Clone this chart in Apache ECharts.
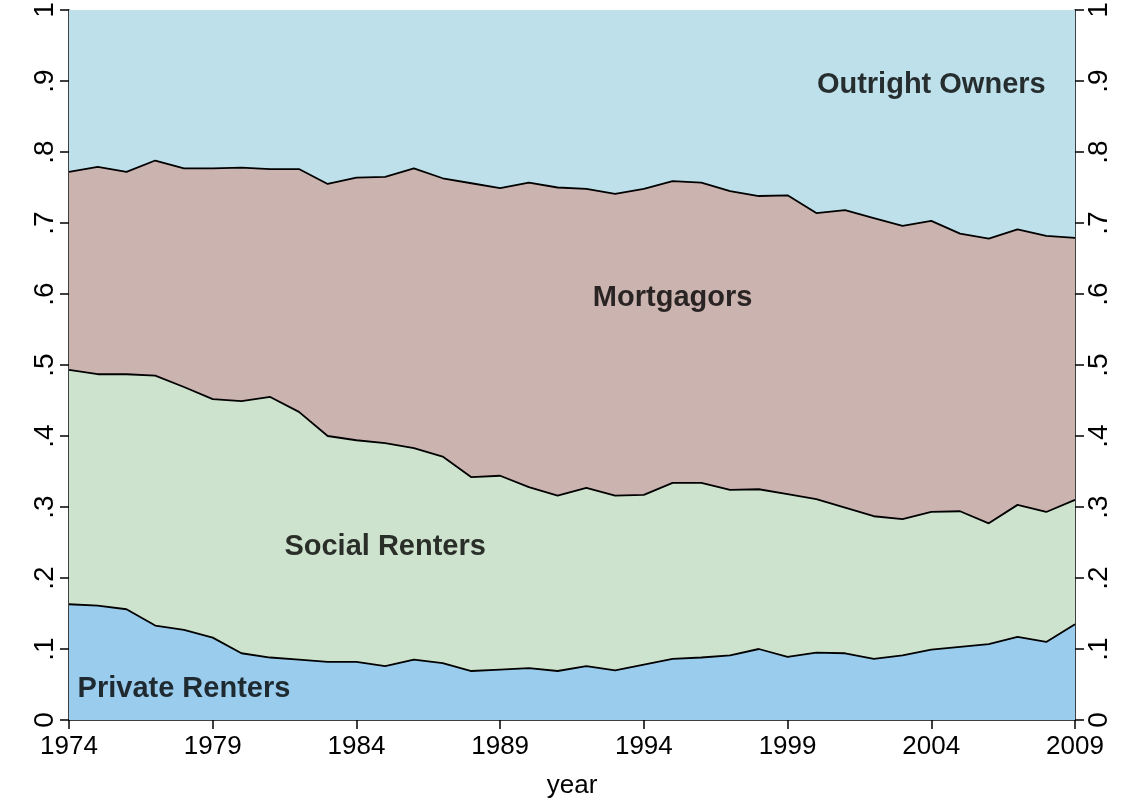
<!DOCTYPE html>
<html>
<head>
<meta charset="utf-8">
<script src="https://cdn.jsdelivr.net/npm/echarts@6/dist/echarts.min.js"></script>
<style>
  html, body { margin: 0; padding: 0; background: #ffffff; }
  #chart { width: 1132px; height: 798px; }
</style>
</head>
<body>
<div id="chart"></div>
<script>
// Housing tenure shares by year
const years = [];
for (let y = 1974; y <= 2009; y++) years.push(String(y));

const privateRenters = [0.163,0.161,0.156,0.133,0.127,0.116,0.094,0.088,0.085,0.082,0.082,0.076,0.085,0.080,0.069,0.071,0.073,0.069,0.076,0.070,0.078,0.086,0.088,0.091,0.100,0.089,0.095,0.094,0.086,0.091,0.099,0.103,0.107,0.117,0.110,0.135];
const socialRenters = [0.330,0.326,0.331,0.352,0.342,0.336,0.355,0.367,0.349,0.318,0.312,0.314,0.298,0.291,0.273,0.273,0.255,0.247,0.251,0.246,0.239,0.248,0.246,0.233,0.225,0.229,0.216,0.205,0.201,0.192,0.194,0.191,0.170,0.186,0.183,0.175];
const mortgagors = [0.279,0.292,0.285,0.303,0.308,0.325,0.329,0.321,0.342,0.355,0.370,0.375,0.394,0.392,0.414,0.405,0.429,0.434,0.421,0.425,0.431,0.425,0.423,0.421,0.413,0.421,0.403,0.419,0.420,0.413,0.410,0.391,0.401,0.388,0.389,0.369];
const outrightOwners = [0.228,0.221,0.228,0.212,0.223,0.223,0.222,0.224,0.224,0.245,0.236,0.235,0.223,0.237,0.244,0.251,0.243,0.250,0.252,0.259,0.252,0.241,0.243,0.255,0.262,0.261,0.286,0.282,0.293,0.304,0.297,0.315,0.322,0.309,0.318,0.321];

// Area labels: name, year and share level where each is placed
const areaNames = ['Outright Owners', 'Mortgagors', 'Social Renters', 'Private Renters'];
const areaLabelYears = ['2004', '1995', '1985', '1978'];
const areaLabelLevels = [0.9, 0.6, 0.25, 0.05];

const FONT = '"Liberation Sans", Arial, Helvetica, sans-serif';

const chart = echarts.init(document.getElementById('chart'), null, { renderer: 'canvas' });

function shareLabel(v) {
  if (Math.abs(v) < 1e-9) return '0';
  if (Math.abs(v - 1) < 1e-9) return '1';
  return '.' + Math.round(v * 10);
}

function yAxisDef(pos) {
  return {
    type: 'value',
    position: pos,
    min: 0,
    max: 1,
    interval: 0.1,
    splitLine: { show: false },
    axisLine: { show: true, onZero: false, lineStyle: { color: '#000', width: 1.5 } },
    axisTick: { show: true, inside: false, length: 9, lineStyle: { color: '#000', width: 1.5 } },
    axisLabel: {
      rotate: 90,
      margin: 10,
      color: '#000',
      fontFamily: FONT,
      fontSize: 28,
      formatter: shareLabel
    }
  };
}

function areaSeries(name, data, color, z, lineWidth) {
  return {
    name: name,
    type: 'line',
    stack: 'tenure',
    data: data,
    symbol: 'none',
    z: z,
    lineStyle: { color: '#000', width: lineWidth },
    areaStyle: { color: color, opacity: 1 },
    emphasis: { disabled: true }
  };
}

chart.setOption({
  animation: false,
  backgroundColor: '#ffffff',
  grid: { left: 69, right: 57, top: 10, bottom: 78, containLabel: false, outerBoundsMode: 'none' },
  xAxis: {
    type: 'category',
    data: years,
    boundaryGap: false,
    name: 'year',
    nameLocation: 'middle',
    nameGap: 53,
    nameTextStyle: { color: '#000', fontFamily: FONT, fontSize: 26 },
    axisLine: { show: true, lineStyle: { color: '#000', width: 1.5 } },
    axisTick: { show: true, interval: 4, length: 9, lineStyle: { color: '#000', width: 1.5 } },
    axisLabel: { interval: 4, margin: 14, color: '#000', fontFamily: FONT, fontSize: 26 },
    splitLine: { show: false }
  },
  yAxis: [yAxisDef('left'), yAxisDef('right')],
  series: [
    areaSeries('Private Renters', privateRenters, '#99cced', 4, 1.8),
    areaSeries('Social Renters', socialRenters, '#cde3cd', 3, 1.8),
    areaSeries('Mortgagors', mortgagors, '#cbb3af', 2, 1.8),
    areaSeries('Outright Owners', outrightOwners, '#bee0ea', 1, 0),
    {
      type: 'scatter',
      z: 10,
      symbolSize: 0,
      silent: true,
      data: areaNames.map((n, i) => ({ name: n, value: [areaLabelYears[i], areaLabelLevels[i]] })),
      label: {
        show: true,
        position: 'inside',
        offset: [0, 4],
        formatter: '{b}',
        color: '#000',
        textBorderWidth: 0,
        fontFamily: FONT,
        fontWeight: 'bold',
        fontSize: 29
      }
    }
  ]
});
</script>
</body>
</html>
